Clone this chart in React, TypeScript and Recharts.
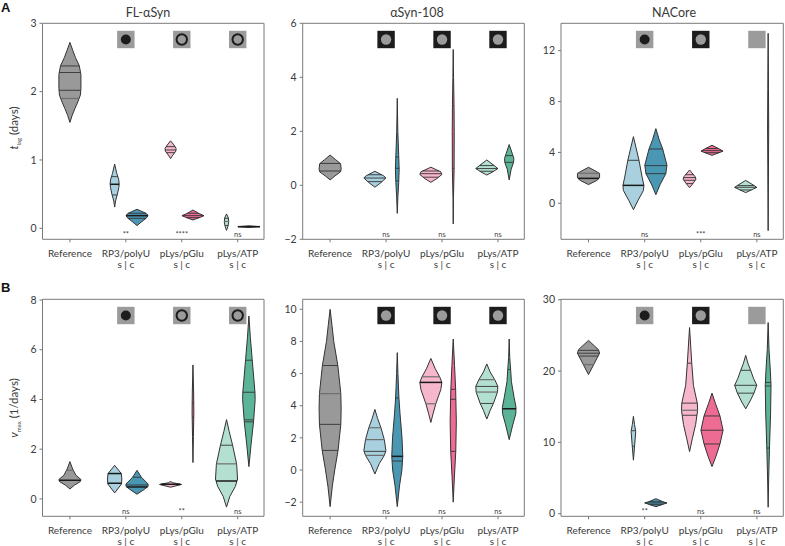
import { ScatterChart, Scatter, XAxis, YAxis, ReferenceArea } from "recharts";

type Pair = [number, number];

const categories = ["Reference", "RP3/polyU", "pLys/pGlu", "pLys/ATP"];
const categoryTicks = [1, 2, 3, 4];
// reference, then s and c for each of the three condensate systems
const slots = [1, 1.8, 2.2, 2.8, 3.2, 3.8, 4.2];

// profile = [value, relative half width]; lines = [value, weight]
const flSynProfiles: Pair[][] = [
  [[1.55, 0], [1.65, 0.2], [1.75, 0.45], [1.85, 0.72], [1.95, 0.95], [2.05, 1], [2.25, 1], [2.38, 0.85], [2.5, 0.5], [2.6, 0.27], [2.72, 0]],
  [[0.31, 0], [0.4, 0.08], [0.5, 0.25], [0.6, 0.38], [0.65, 0.41], [0.72, 0.36], [0.8, 0.2], [0.94, 0]],
  [[0.04, 0], [0.1, 0.45], [0.15, 0.85], [0.19, 1], [0.22, 0.8], [0.278, 0]],
  [[1.02, 0], [1.07, 0.2], [1.13, 0.48], [1.17, 0.5], [1.22, 0.3], [1.28, 0]],
  [[0.122, 0], [0.16, 0.65], [0.185, 1], [0.22, 0.5], [0.268, 0]],
  [[-0.03, 0], [0.03, 0.13], [0.09, 0.2], [0.15, 0.17], [0.21, 0]],
  [[0.012, 0], [0.024, 1], [0.036, 0]],
];
const flSynLines: Pair[][] = [
  [[2.376, 1], [2.28, 1], [2.02, 1], [1.9, 0]],
  [[0.756, 1], [0.644, 2], [0.488, 1]],
  [[0.22, 1], [0.185, 2], [0.146, 1]],
  [[1.195, 1], [1.146, 1], [1.107, 1]],
  [[0.22, 1], [0.185, 1], [0.156, 1]],
  [[0.146, 1], [0.1, 0], [0.04, 1]],
  [[0.024, 2]],
];

const syn108Profiles: Pair[][] = [
  [[0.2, 0], [0.35, 0.45], [0.5, 0.95], [0.6, 1], [0.8, 0.95], [0.95, 0.5], [1.12, 0]],
  [[-0.07, 0], [0.1, 0.55], [0.27, 1], [0.35, 0.8], [0.52, 0]],
  [[-1.04, 0], [-0.4, 0.06], [0.1, 0.13], [0.6, 0.17], [1.1, 0.13], [2, 0.05], [3.22, 0]],
  [[0.11, 0], [0.25, 0.55], [0.4, 1], [0.5, 0.9], [0.67, 0]],
  [[-1.43, 0], [-0.5, 0.02], [0.6, 0.08], [2, 0.09], [3, 0.07], [4, 0.03], [5.03, 0]],
  [[0.38, 0], [0.5, 0.55], [0.62, 1], [0.72, 0.7], [0.94, 0]],
  [[0.2, 0], [0.6, 0.18], [0.85, 0.4], [1, 0.42], [1.15, 0.3], [1.51, 0]],
];
const syn108Lines: Pair[][] = [
  [[0.81, 1], [0.53, 1]],
  [[0.39, 1], [0.27, 1], [0.135, 1]],
  [[1.05, 1], [0.63, 1], [0.16, 1]],
  [[0.53, 1], [0.43, 1], [0.3, 1]],
  [[2.97, 1], [0.63, 1]],
  [[0.73, 1], [0.62, 1], [0.52, 1]],
  [[1.1, 1], [0.85, 1]],
];

const naCoreProfiles: Pair[][] = [
  [[1.47, 0], [1.8, 0.75], [2, 1], [2.35, 1], [2.6, 0.5], [2.83, 0]],
  [[-0.5, 0], [0.2, 0.4], [1, 0.9], [1.4, 0.95], [2, 0.8], [3.4, 0.5], [5.24, 0]],
  [[0.68, 0], [1.5, 0.4], [2.33, 0.9], [3, 1], [4.27, 0.62], [5, 0.3], [5.87, 0]],
  [[1.23, 0], [1.6, 0.35], [1.9, 0.58], [2.1, 0.5], [2.62, 0]],
  [[3.77, 0], [4.1, 1], [4.3, 0.6], [4.56, 0]],
  [[0.84, 0], [1.25, 1], [1.4, 0.75], [1.8, 0]],
  [[-2.15, 0], [3, 0.03], [6, 0.05], [9, 0.03], [13.36, 0]],
];
const naCoreLines: Pair[][] = [
  [[2.36, 0], [1.96, 2]],
  [[3.38, 1], [1.41, 2]],
  [[4.27, 1], [2.96, 1], [2.33, 1]],
  [[2.25, 1], [2.02, 1], [1.81, 1], [1.55, 1]],
  [[4.3, 1], [4.14, 1], [3.98, 1]],
  [[1.39, 1], [1.26, 1], [1.05, 1]],
  [[5.95, 1]],
];

const vmaxFlProfiles: Pair[][] = [
  [[0.4, 0], [0.55, 0.4], [0.7, 0.95], [0.78, 1], [0.95, 0.55], [1.2, 0.25], [1.5, 0]],
  [[0.24, 0], [0.6, 0.62], [0.8, 0.65], [1.02, 0.6], [1.35, 0]],
  [[0.19, 0], [0.35, 0.55], [0.5, 1], [0.6, 1], [0.87, 0.4], [1.15, 0]],
  [[0.47, 0], [0.58, 1], [0.65, 0.2], [0.7, 0]],
  [[1.46, 0], [2.5, 0.04], [3.5, 0.08], [4.3, 0.06], [5.39, 0]],
  [[-0.33, 0], [0.1, 0.3], [0.5, 0.8], [0.8, 1], [1.4, 0.92], [2.16, 0.55], [2.7, 0.25], [3.19, 0]],
  [[1.3, 0], [2.2, 0.2], [3.1, 0.42], [4, 0.57], [4.3, 0.55], [5.6, 0.3], [6.5, 0.13], [7.36, 0]],
];
const vmaxFlLines: Pair[][] = [
  [[1.15, 0], [0.75, 2]],
  [[1.02, 2], [0.63, 2]],
  [[0.87, 1], [0.56, 1], [0.48, 2]],
  [[0.59, 2]],
  [[3.85, 1], [3.28, 1], [2.35, 1]],
  [[2.16, 1], [1.41, 0], [0.72, 2]],
  [[5.58, 1], [4.29, 1], [3.18, 1], [3.1, 1]],
];

const vmax108Profiles: Pair[][] = [
  [[-2.28, 0], [-1, 0.2], [0, 0.42], [1.22, 0.72], [2.84, 0.97], [3.8, 1], [4.75, 0.97], [6.5, 0.7], [8, 0.33], [9, 0.17], [10, 0]],
  [[-0.25, 0], [0.4, 0.4], [0.9, 0.85], [1.2, 1], [1.9, 0.85], [2.63, 0.55], [3.2, 0.25], [3.77, 0]],
  [[-2.28, 0], [-1, 0.2], [0, 0.42], [0.85, 0.5], [2, 0.43], [3.5, 0.25], [4.48, 0.15], [6, 0.06], [7.3, 0]],
  [[2.96, 0], [3.5, 0.2], [4.12, 0.45], [5, 0.9], [5.45, 1], [5.8, 0.8], [6.3, 0.4], [6.94, 0]],
  [[-2, 0], [-0.5, 0.1], [1.16, 0.23], [3, 0.28], [5, 0.22], [6.5, 0.12], [8.15, 0]],
  [[3.17, 0], [3.7, 0.3], [4.14, 0.6], [4.85, 0.97], [5.2, 1], [5.62, 0.72], [6.1, 0.3], [6.6, 0]],
  [[1.89, 0], [2.8, 0.32], [3.5, 0.6], [3.9, 0.62], [4.5, 0.45], [5.5, 0.2], [6.26, 0.13], [7, 0.05], [8.15, 0]],
];
const vmax108Lines: Pair[][] = [
  [[6.5, 1], [4.75, 0], [2.84, 1], [1.22, 1]],
  [[2.63, 0], [1.89, 0], [1.16, 1], [0.91, 0]],
  [[4.48, 1], [0.85, 2], [0.56, 1]],
  [[5.8, 0], [5.45, 2], [4.12, 0]],
  [[5.02, 1], [4.4, 1], [1.16, 1]],
  [[5.62, 0], [5.2, 1], [4.85, 0], [4.14, 1]],
  [[6.26, 1], [3.81, 2]],
];

const vmaxNaProfiles: Pair[][] = [
  [[19.5, 0], [21, 0.5], [22.5, 1], [23, 0.9], [24.3, 0]],
  [[7.5, 0], [9.4, 0.1], [11.5, 0.21], [12.5, 0.1], [13.65, 0]],
  [[0.98, 0], [1.5, 1], [1.7, 0.6], [2.1, 0]],
  [[8.7, 0], [10.5, 0.25], [12.5, 0.55], [14.5, 0.73], [15.5, 0.7], [18, 0.35], [21.1, 0.2], [26.1, 0]],
  [[6.6, 0], [8, 0.35], [9.77, 0.72], [11.7, 1], [13.7, 0.72], [15.5, 0.3], [16.9, 0]],
  [[14.7, 0], [15.8, 0.4], [16.9, 0.75], [18, 1], [19, 0.7], [20.1, 0.45], [21, 0.22], [22.2, 0]],
  [[0.9, 0], [5, 0.05], [9.2, 0.12], [14, 0.22], [18, 0.26], [20, 0.2], [23, 0.08], [26.8, 0]],
];
const vmaxNaLines: Pair[][] = [
  [[22.9, 1], [22.5, 1], [22.1, 1], [20.9, 0]],
  [[11.63, 1], [9.44, 1]],
  [[1.68, 1], [1.5, 1], [1.26, 1]],
  [[21.1, 1], [15.5, 1], [14.5, 0], [13.8, 1]],
  [[13.7, 1], [11.7, 1], [9.77, 1]],
  [[20.1, 1], [18, 1], [16.9, 1]],
  [[18.4, 1], [17.9, 1], [9.2, 1]],
];

const sigFlSyn = ["", "**", "****", "ns"];
const sigSyn108 = ["", "ns", "ns", "ns"];
const sigNaCore = ["", "ns", "***", "ns"];
const sigVmaxFl = ["", "ns", "**", "ns"];
const sigVmax108 = ["", "ns", "ns", "ns"];
const sigVmaxNa = ["", "**", "ns", "ns"];

const iconsRing = ["", "dot", "ring", "ring"];
const iconsHollow = ["", "hollow", "hollow", "hollow"];
const iconsMixed = ["", "dot", "hollow", "blank"];

const colors = ["#999999", "#a8d0df", "#4a97b4", "#f6b6cc", "#ee6b93", "#b4e0d1", "#5cb498"];
const FONT = "Lato, 'Open Sans', sans-serif";
const INK = "#3a3a3a";
const HALF_WIDTH = 0.197;

function widthAt(profile: Pair[], value: number) {
  for (let i = 1; i < profile.length; i++) {
    const [y0, w0] = profile[i - 1];
    const [y1, w1] = profile[i];
    if (value >= y0 && value <= y1) return w0 + ((w1 - w0) * (value - y0)) / (y1 - y0);
  }
  return 0;
}

const closedPath = (fill: string, stroke: string) => (p: any) => {
  const d = p.points.map((pt: any, i: number) => `${i ? "L" : "M"}${pt.x},${pt.y}`).join("") + "Z";
  return <path key="violin" d={d} fill={fill} stroke={stroke} strokeWidth={1} strokeLinejoin="round" />;
};

const noDot = () => <g />;

function Icon({ cx, cy, kind }: any) {
  const gray = "#9b9b9b";
  const dark = "#1c1c1c";
  if (!kind) return <g />;
  const bg = kind === "hollow" ? dark : gray;
  return (
    <g>
      <rect x={cx - 8.7} y={cy - 8.7} width={17.4} height={17.4} fill={bg} />
      {kind === "dot" && <circle cx={cx} cy={cy} r={5} fill={dark} />}
      {kind === "ring" && <circle cx={cx} cy={cy} r={5.2} fill={gray} stroke={dark} strokeWidth={2} />}
      {kind === "hollow" && <circle cx={cx} cy={cy} r={5.2} fill={gray} />}
    </g>
  );
}

function CategoryTick({ x, y, payload }: any) {
  return (
    <text x={x} textAnchor="middle" fontFamily={FONT} fontSize={10} fill={INK}>
      <tspan x={x} y={y + 12.5}>{categories[payload.value - 1]}</tspan>
      {payload.value > 1 && <tspan x={x} y={y + 23.5}>s | c</tspan>}
    </text>
  );
}

function Panel({ frame, domain, ticks, profiles, lines, sig, icons }: any) {
  const [left, top, right, bottom, boxLeft, boxTop, boxW, boxH] = frame;
  const range = domain[1] - domain[0];
  const plotH = bottom - top;
  const iconY = domain[1] - (16.2 / plotH) * range;
  const sigY = domain[0] + (4.6 / plotH) * range;
  return (
    <div style={{ position: "absolute", left: boxLeft, top: boxTop }}>
      <ScatterChart
        width={boxW}
        height={boxH}
        style={{ overflow: "visible" }}
        margin={{ left: left - boxLeft - 30, top: top - boxTop, right: boxLeft + boxW - right, bottom: boxTop + boxH - bottom - 30 }}
      >
        <XAxis
          type="number"
          dataKey="x"
          domain={[0.51, 4.47]}
          ticks={categoryTicks}
          interval={0}
          height={30}
          axisLine={false}
          tickLine={{ stroke: "#777" }}
          tickSize={3}
          tick={<CategoryTick />}
        />
        <YAxis
          type="number"
          dataKey="y"
          domain={domain}
          ticks={ticks}
          interval={0}
          width={30}
          axisLine={false}
          tickLine={{ stroke: "#777" }}
          tickSize={3}
          tickMargin={3}
          tick={{ fontSize: 10.5, fill: INK, fontFamily: FONT }}
          tickFormatter={(v: number) => String(v).replace("-", "\u2212")}
        />
        <ReferenceArea x1={0.51} x2={4.47} y1={domain[0]} y2={domain[1]} fill="none" stroke="#7a7a7a" strokeWidth={1} />
        {icons.map((kind: string, i: number) => (
          <Scatter
            key={`icon${i}`}
            data={[{ x: categoryTicks[i], y: iconY }]}
            isAnimationActive={false}
            shape={(p: any) => <Icon cx={p.cx} cy={p.cy} kind={kind} />}
          />
        ))}
        {profiles.map((profile: Pair[], i: number) => {
          const pos = slots[i];
          const outline = [
            ...profile.map(([y, w]) => ({ x: pos - w * HALF_WIDTH, y })),
            ...[...profile].reverse().map(([y, w]) => ({ x: pos + w * HALF_WIDTH, y })),
          ];
          return (
            <Scatter
              key={`violin${i}`}
              data={outline}
              isAnimationActive={false}
              shape={noDot}
              line={closedPath(colors[i], "#333333")}
            />
          );
        })}
        {lines.flatMap((set: Pair[], i: number) =>
          set.map(([value, weight], j) => {
            const half = widthAt(profiles[i], value) * HALF_WIDTH;
            return (
              <Scatter
                key={`line${i}-${j}`}
                data={[{ x: slots[i] - half, y: value }, { x: slots[i] + half, y: value }]}
                isAnimationActive={false}
                shape={noDot}
                line={{
                  stroke: weight === 2 ? "#1a1a1a" : weight === 1 ? "#333333" : "#6e6e6e",
                  strokeWidth: weight === 2 ? 1.5 : weight === 1 ? 0.9 : 1.2,
                }}
              />
            );
          })
        )}
        {sig.map((label: string, i: number) => (
          <Scatter
            key={`sig${i}`}
            data={[{ x: categoryTicks[i], y: sigY }]}
            isAnimationActive={false}
            shape={(p: any) => (
              <text x={p.cx} y={p.cy} textAnchor="middle" dominantBaseline="middle" fontFamily={FONT} fontSize={7.5} fill="#444">
                {label}
              </text>
            )}
          />
        ))}
      </ScatterChart>
    </div>
  );
}

const caption = { position: "absolute", fontFamily: FONT, color: INK, whiteSpace: "nowrap", lineHeight: 1 } as const;

function Title({ text, x, y }: any) {
  return <div style={{ ...caption, left: x, top: y, transform: "translateX(-50%)", fontSize: 12.5 }}>{text}</div>;
}

function AxisTitle({ x, y, head, sub, tail }: any) {
  return (
    <div style={{ ...caption, left: x, top: y, transform: "translate(-50%,-50%) rotate(-90deg)", fontSize: 11.5 }}>
      <i>{head}</i>
      <sub style={{ fontSize: 6 }}>{sub}</sub> {tail}
    </div>
  );
}

export default function App() {
  return (
    <div style={{ position: "absolute", left: 0, top: 0, width: 785, height: 546, background: "#fff", overflow: "hidden" }}>
      <Panel frame={[42.5, 23.3, 264, 239.3, 0, 0, 270, 275]} domain={[-0.161, 3]} ticks={[0, 1, 2, 3]} profiles={flSynProfiles} lines={flSynLines} sig={sigFlSyn} icons={iconsRing} />
      <Panel frame={[302.7, 23.3, 524.3, 239.3, 265, 0, 260, 275]} domain={[-2, 6]} ticks={[-2, 0, 2, 4, 6]} profiles={syn108Profiles} lines={syn108Lines} sig={sigSyn108} icons={iconsHollow} />
      <Panel frame={[561, 23.3, 783.3, 239.3, 525, 0, 260, 275]} domain={[-2.83, 14.15]} ticks={[0, 4, 8, 12]} profiles={naCoreProfiles} lines={naCoreLines} sig={sigNaCore} icons={iconsMixed} />
      <Panel frame={[42.5, 299.3, 264, 516.3, 0, 275, 270, 271]} domain={[-0.7, 8.03]} ticks={[0, 2, 4, 6, 8]} profiles={vmaxFlProfiles} lines={vmaxFlLines} sig={sigVmaxFl} icons={iconsRing} />
      <Panel frame={[302.7, 299.3, 524.3, 516.3, 265, 275, 260, 271]} domain={[-2.88, 10.62]} ticks={[-2, 0, 2, 4, 6, 8, 10]} profiles={vmax108Profiles} lines={vmax108Lines} sig={sigVmax108} icons={iconsHollow} />
      <Panel frame={[561, 299.3, 783.3, 516.3, 525, 275, 260, 271]} domain={[-0.37, 30.06]} ticks={[0, 10, 20, 30]} profiles={vmaxNaProfiles} lines={vmaxNaLines} sig={sigVmaxNa} icons={iconsMixed} />

      <div style={{ ...caption, left: 1, top: 1, fontSize: 13, fontWeight: 700, color: "#111", fontFamily: "'Liberation Sans', sans-serif" }}>A</div>
      <div style={{ ...caption, left: 1, top: 281, fontSize: 13, fontWeight: 700, color: "#111", fontFamily: "'Liberation Sans', sans-serif" }}>B</div>
      <Title text="FL-αSyn" x={148} y={7} />
      <Title text="αSyn-108" x={417} y={7} />
      <Title text="NACore" x={674} y={7} />
      <AxisTitle x={15} y={128} head="t" sub="lag" tail="(days)" />
      <AxisTitle x={15} y={408} head="v" sub="max" tail="(1/days)" />
    </div>
  );
}
